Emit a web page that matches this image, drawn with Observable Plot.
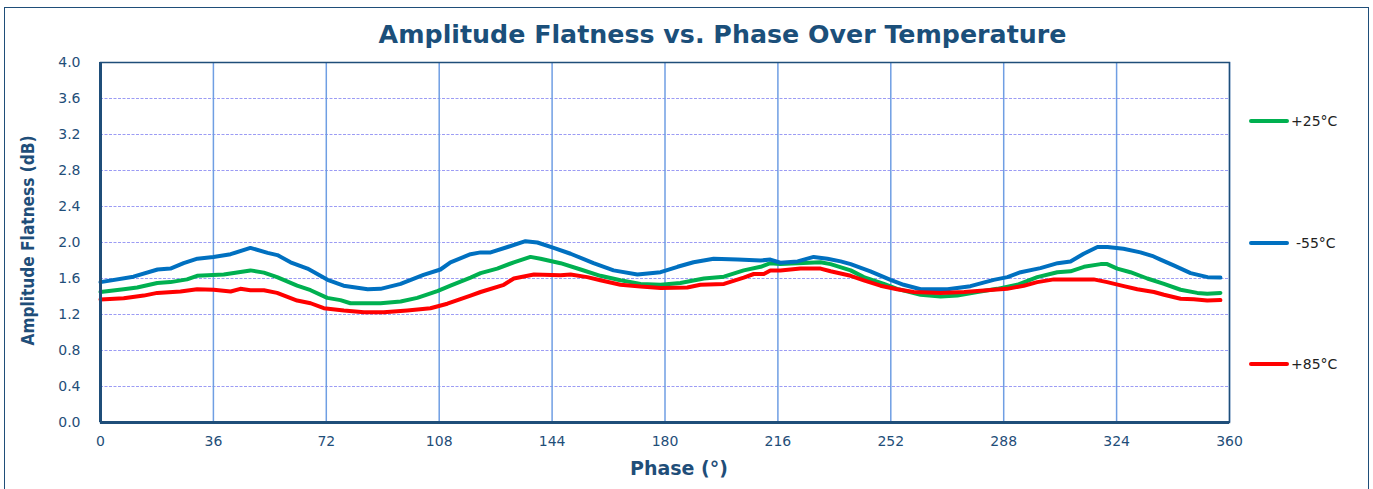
<!DOCTYPE html>
<html><head><meta charset="utf-8">
<script src="https://cdn.jsdelivr.net/npm/d3@7"></script>
<script src="https://cdn.jsdelivr.net/npm/@observablehq/plot@0.6"></script>
<style>
body{margin:0;background:#fff;}
#wrap{position:relative;width:1373px;height:489px;overflow:hidden;background:#fff;}
#frame{position:absolute;left:4px;top:7px;width:1365px;height:520px;border:1.5px solid #1f4e79;box-sizing:border-box;pointer-events:none;}
#title{box-sizing:border-box;width:1373px;height:56px;padding:20px 0 0 72px;line-height:34px;text-align:center;font:bold 25.3px "DejaVu Sans",Verdana,sans-serif;color:#1b4f7a;}
#chart svg{overflow:visible;}
.leg{position:absolute;left:1249px;font:14px "DejaVu Sans",Verdana,sans-serif;color:#222;display:flex;align-items:center;}
.leg span.sw{display:inline-block;width:40px;height:4px;border-radius:2px;margin-right:2px;}
</style>
</head><body>
<div id="wrap">
  <div id="title">Amplitude Flatness vs. Phase Over Temperature</div>
  <div id="chart"></div>
  <div id="legend"></div>
  <div id="frame"></div>
</div>
<script>
const seriesNames = ["+25°C", "-55°C", "+85°C"];
const seriesColors = ["#00b050", "#0070c0", "#ff0000"];
const xTicks = [0, 36, 72, 108, 144, 180, 216, 252, 288, 324, 360];
const yTicks = [0, 0.4, 0.8, 1.2, 1.6, 2.0, 2.4, 2.8, 3.2, 3.6, 4.0];

const phaseM55 = [0,10.5,18.2,22.3,26.5,30.9,36,41.5,47.8,53.3,56.4,60.6,66,72.4,77.5,85.2,89.3,95.7,103,108.4,111.6,118,121.2,124.4,129.8,135.5,139.3,144.5,149.9,157.2,163.6,171.2,178.6,184,189.1,195.5,203.2,210.5,213.6,216.8,222.3,227.4,231.8,236,239.2,245.5,251.9,256.1,261.5,270.1,277.4,284.8,289.2,293.4,299.7,305.2,309.3,313.5,317.9,321.1,326.2,331.6,335.8,338,342.2,347.6,353,357.1];
const valueM55 = [1.56,1.62,1.70,1.71,1.77,1.82,1.84,1.87,1.94,1.885,1.86,1.78,1.71,1.585,1.52,1.48,1.485,1.54,1.64,1.70,1.78,1.87,1.89,1.89,1.95,2.015,2.00,1.94,1.875,1.77,1.69,1.645,1.67,1.73,1.78,1.82,1.81,1.80,1.81,1.775,1.79,1.84,1.82,1.79,1.76,1.68,1.585,1.53,1.48,1.48,1.515,1.585,1.615,1.67,1.715,1.77,1.79,1.875,1.95,1.95,1.93,1.89,1.845,1.81,1.745,1.66,1.615,1.61];

const phaseP25 = [0,7.4,11.7,18.1,22.3,27.6,30.8,39.3,47.8,52.1,56.3,62.7,67,72.3,76.5,79.7,89.3,95.7,101,107.4,111.6,118,121.2,126.5,131.8,137.1,140.3,146.7,153.1,159.4,165.8,172.2,178.6,184.9,192.4,198.8,205.1,210.5,213.6,216.8,222.2,229.6,232.8,239.2,243.4,249.8,254,261.5,267.9,273.2,279.6,285.9,292.3,298.7,305.1,309.3,313.6,318.9,321,324.2,328.4,333.8,339.1,344.4,349.7,352.9,357.1];
const valueP25 = [1.45,1.48,1.50,1.55,1.56,1.59,1.63,1.645,1.69,1.665,1.615,1.52,1.47,1.385,1.36,1.325,1.325,1.345,1.385,1.46,1.52,1.61,1.66,1.71,1.78,1.84,1.82,1.77,1.70,1.63,1.58,1.54,1.53,1.55,1.60,1.62,1.69,1.73,1.77,1.76,1.77,1.78,1.76,1.69,1.615,1.54,1.485,1.42,1.40,1.41,1.45,1.485,1.53,1.615,1.67,1.68,1.73,1.76,1.76,1.71,1.67,1.60,1.54,1.475,1.44,1.43,1.44];

const phaseP85 = [0,7.4,13.8,18.1,25.5,30.8,36.1,41.5,44.6,47.8,52.1,56.3,62.7,67,71.2,77.6,84,90.3,97.8,105.2,110.6,118,121.2,128.6,131.8,138.2,146.7,149.9,155.2,159.4,165.8,172.2,178.6,187.1,191.3,198.8,205.1,208.3,211.5,213.6,216.8,223.2,229.6,232.8,239.2,243.4,248.7,254,259.3,267.9,275.4,282.7,289.1,294.4,298.7,304,309.3,316.7,321,326.3,330.6,335.9,339.1,344.4,348.6,352.9,357.1];
const valueP85 = [1.367,1.38,1.41,1.44,1.455,1.48,1.475,1.455,1.485,1.47,1.47,1.44,1.355,1.325,1.27,1.245,1.225,1.225,1.245,1.27,1.32,1.41,1.45,1.53,1.60,1.645,1.635,1.645,1.615,1.58,1.53,1.51,1.495,1.50,1.53,1.54,1.61,1.65,1.65,1.69,1.69,1.71,1.71,1.68,1.63,1.58,1.52,1.48,1.45,1.44,1.45,1.47,1.485,1.52,1.56,1.59,1.59,1.59,1.56,1.515,1.48,1.45,1.42,1.375,1.37,1.355,1.36];

const rows = [];
[[seriesNames[0], phaseP25, valueP25], [seriesNames[1], phaseM55, valueM55], [seriesNames[2], phaseP85, valueP85]]
  .forEach(([s, ph, v]) => ph.forEach((p, i) => rows.push({series: s, phase: p, value: v[i]})));

const ink = "#1f4e79";
const chart = Plot.plot({
  width: 1373, height: 433,
  marginLeft: 100, marginRight: 144, marginTop: 6, marginBottom: 67,
  style: {fontFamily: "DejaVu Sans, Verdana, sans-serif", fontSize: "14px", color: ink, background: "transparent"},
  x: {domain: [0, 360], ticks: xTicks, tickSize: 0, tickPadding: 14, label: null},
  y: {domain: [0, 4], ticks: yTicks, tickSize: 0, tickPadding: 20, tickFormat: d3.format(".1f"), label: null},
  color: {domain: seriesNames, range: seriesColors},
  marks: [
    Plot.gridY(yTicks, {stroke: "#9c9cf4", strokeOpacity: 1, strokeWidth: 1, strokeDasharray: "3,1.5"}),
    Plot.gridX(xTicks, {stroke: "#6f9ee3", strokeOpacity: 1, strokeWidth: 1.5}),
    Plot.line(rows, {x: "phase", y: "value", z: "series", stroke: "series", strokeWidth: 4, strokeLinejoin: "round", strokeLinecap: "round"}),
    Plot.frame({stroke: ink, strokeWidth: 1.5}),
    Plot.ruleX([0], {stroke: ink, strokeWidth: 3}),
    Plot.ruleY([0], {stroke: ink, strokeWidth: 3}),
    Plot.text(["Phase (°)"], {frameAnchor: "bottom", dx: 14, dy: 52, fill: ink, fontWeight: "bold", fontSize: 19}),
    Plot.text(["Amplitude Flatness (dB)"], {className: "ylab", frameAnchor: "left", textAnchor: "middle", dx: -72, dy: -2, rotate: -90, fill: ink, fontWeight: "bold", fontSize: 18, fontFamily: "DejaVu Sans Condensed, DejaVu Sans, sans-serif"})
  ]
});
document.getElementById("chart").appendChild(chart);
const yl = chart.querySelector(".ylab text");
if (yl) { yl.setAttribute("textLength", "210"); yl.setAttribute("lengthAdjust", "spacingAndGlyphs"); }

const legTops = [121, 243, 364];
const legend = document.getElementById("legend");
seriesNames.forEach((n, i) => {
  const d = document.createElement("div");
  d.className = "leg";
  d.style.top = (legTops[i] - 9) + "px";
  d.style.height = "18px";
  d.innerHTML = `<span class="sw" style="background:${seriesColors[i]}"></span><span style="padding-left:${n.startsWith("-") ? 5 : 0}px">${n}</span>`;
  legend.appendChild(d);
});
</script>
</body></html>
